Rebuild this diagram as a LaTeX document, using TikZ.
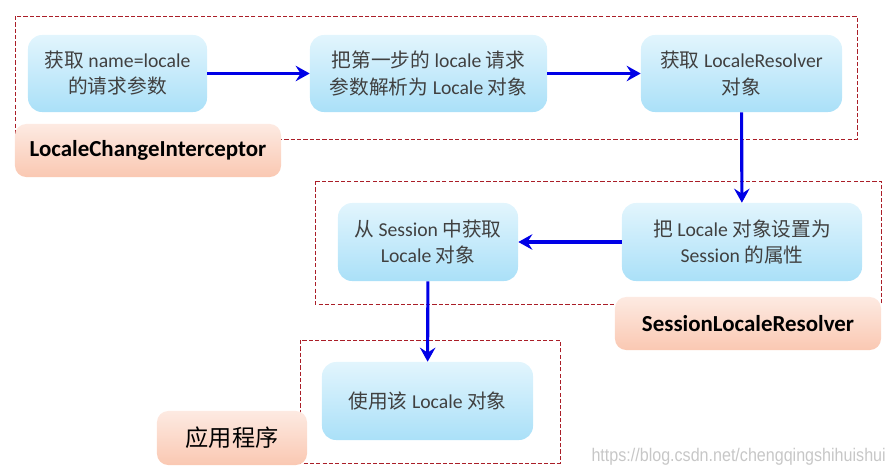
\documentclass[tikz,border=0pt]{standalone}
\usepackage{fontspec}
\setmainfont{Carlito}
\newfontfamily\cjk{Noto Sans CJK SC}
\newfontfamily\markfont{Liberation Sans}
\usepackage{tikz}
\usetikzlibrary{arrows.meta}
\newcommand{\zh}[1]{{\cjk #1}}
\definecolor{stepblue}{RGB}{0,0,230}
\definecolor{framered}{RGB}{170,30,40}
\definecolor{skytop}{RGB}{226,245,253}
\definecolor{skybot}{RGB}{170,224,248}
\definecolor{peachtop}{RGB}{253,234,226}
\definecolor{peachbot}{RGB}{250,200,178}
\tikzset{stepbox/.style={rectangle, rounded corners=10pt, top color=skytop, bottom color=skybot, draw=none, align=center, text=black!75, font=\fontsize{14}{18.5}\selectfont, inner sep=0pt}}
\tikzset{rolebox/.style={rectangle, rounded corners=8pt, top color=peachtop, bottom color=peachbot, draw=none, align=center, text=black, minimum height=1.325cm, inner sep=0pt}}
\tikzset{groupframe/.style={draw=framered, dash pattern=on 3pt off 1.5pt, line width=0.6pt}}
\tikzset{flow/.style={draw=stepblue, line width=2.2pt, -{Stealth[length=10pt, width=11pt, inset=3.5pt]}}}

\begin{document}
\begin{tikzpicture}[x=0.025cm, y=-0.025cm]
	\useasboundingbox (0,0) rectangle (890,475);
	% dashed frames
	\draw [groupframe] (15,16) rectangle (857,139);
	\draw [groupframe] (315,181) rectangle (881,304);
	\draw [groupframe] (300,340) rectangle (560,463);
	% steps
	\node [stepbox, minimum width=4.475cm, minimum height=1.925cm] (getparam) at (117.5,73.5) {\zh{获取} name=locale\\\zh{的请求参数}};
	\node [stepbox, minimum width=5.925cm, minimum height=1.925cm] (parse) at (428.5,73.5) {\zh{把第一步的} locale \zh{请求}\\\zh{参数解析为} Locale \zh{对象}};
	\node [stepbox, minimum width=5.025cm, minimum height=1.925cm] (resolver) at (741.5,73.5) {\zh{获取} LocaleResolver\\\zh{对象}};
	\node [stepbox, minimum width=6cm, minimum height=1.95cm] (setattr) at (742,242) {\zh{把} Locale \zh{对象设置为}\\Session \zh{的属性}};
	\node [stepbox, minimum width=4.5cm, minimum height=1.95cm] (fromsession) at (428,242) {\zh{从} Session \zh{中获取}\\Locale \zh{对象}};
	\node [stepbox, minimum width=5.275cm, minimum height=1.95cm] (uselocale) at (427.5,401) {\zh{使用该} Locale \zh{对象}};
	% roles
	\node [rolebox, minimum width=6.65cm, font=\fontsize{16.3}{18}\selectfont\bfseries] (interceptor) at (148,150.5) {LocaleChangeInterceptor};
	\node [rolebox, minimum width=6.65cm, font=\fontsize{16.3}{18}\selectfont\bfseries] (sessionres) at (748,323.5) {SessionLocaleResolver};
	\node [rolebox, minimum width=3.75cm, minimum height=1.35cm, font=\fontsize{16.5}{18}\selectfont] (app) at (232,438) {\zh{应用程序}};
	\node [text=black!22, font=\markfont\fontsize{13}{14}\selectfont, xscale=0.88, anchor=east, inner sep=0pt] (mark) at (886,457) {https://blog.csdn.net/chengqingshihuishui};
	% flow
	\draw [flow] (getparam) -- (parse);
	\draw [flow] (parse) -- (resolver);
	\draw [flow] (resolver) -- (setattr);
	\draw [flow] (setattr) -- (fromsession);
	\draw [flow] (fromsession) -- (uselocale);
\end{tikzpicture}
\end{document}
